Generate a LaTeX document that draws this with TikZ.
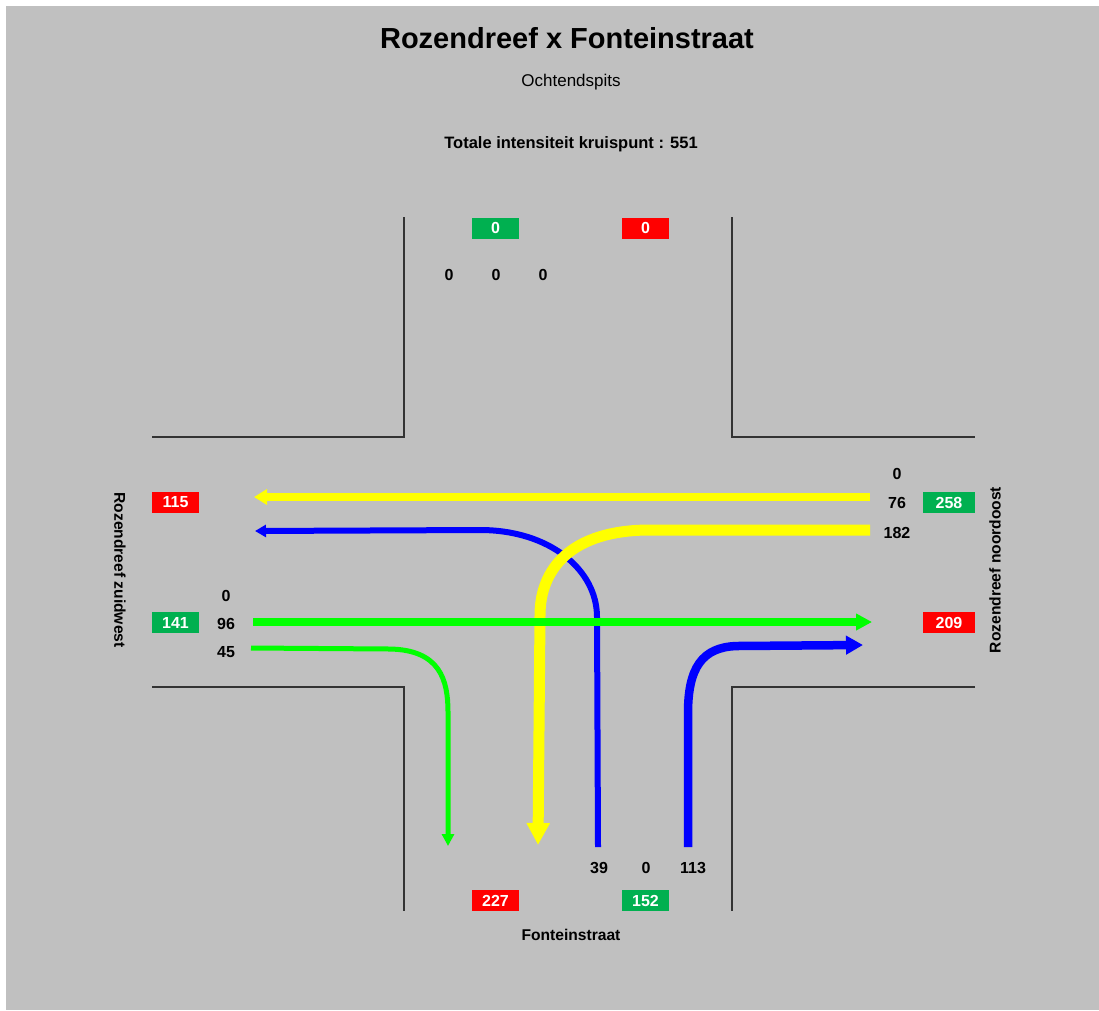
\documentclass[tikz,border=0pt]{standalone}
\usepackage{fontspec}
\setmainfont{Liberation Sans}
\usepackage{xcolor}
\usepackage{tikz}
\usetikzlibrary{arrows.meta}
\definecolor{bggray}{RGB}{192,192,192}
\definecolor{boxgreen}{RGB}{0,176,80}
\definecolor{flowyellow}{RGB}{255,255,0}
\definecolor{flowblue}{RGB}{0,0,255}
\definecolor{flowgreen}{RGB}{0,255,0}

\begin{document}
\begin{tikzpicture}[
  x=1pt, y=-1pt,
  count/.style={font=\bfseries\fontsize{16}{16}\selectfont, inner sep=0pt},
  inbox/.style={fill=boxgreen, text=white, minimum width=47pt, minimum height=21pt, inner sep=0pt, font=\bfseries\fontsize{16}{16}\selectfont},
  outbox/.style={inbox, fill=red},
  street/.style={font=\bfseries\fontsize{15.6}{16}\selectfont, inner sep=0pt},
  kerb/.style={draw=black!80, line width=1.6pt},
  flow/.style={line width=#1}
]
  \useasboundingbox (0,0) rectangle (1099,1010);
  \fill[white] (0,0) rectangle (1099,1010);
  \fill[bggray] (6,6) rectangle (1099,1010);

  \node[font=\bfseries\fontsize{29}{30}\selectfont] (title) at (567,38) {Rozendreef x Fonteinstraat};
  \node[font=\fontsize{17}{18}\selectfont, anchor=base] (period) at (571,86) {Ochtendspits};
  \node[font=\bfseries\fontsize{16.5}{18}\selectfont] (total) at (571,144) {Totale intensiteit kruispunt : 551};

  % kerbs
  \draw[kerb] (404,217) -- (404,437) -- (152,437);
  \draw[kerb] (732,217) -- (732,437) -- (975,437);
  \draw[kerb] (152,687) -- (404,687) -- (404,911);
  \draw[kerb] (975,687) -- (732,687) -- (732,911);

  % north
  \node[inbox] (nin) at (495.5,228) {0};
  \node[outbox] (nout) at (645.5,228) {0};
  \node[count] (n1) at (449,275) {0};
  \node[count] (n2) at (496,275) {0};
  \node[count] (n3) at (543,275) {0};

  % south west
  \node[outbox] (swout) at (175.5,502.5) {115};
  \node[inbox] (swin) at (175.5,622.5) {141};
  \node[count] (sw1) at (226,596) {0};
  \node[count] (sw2) at (226,624) {96};
  \node[count] (sw3) at (226,652) {45};
  \node[street, rotate=-90] (swname) at (120,570) {Rozendreef zuidwest};

  % north east
  \node[inbox, minimum width=52pt] (nein) at (949,502.5) {258};
  \node[outbox, minimum width=52pt] (neout) at (949,622.5) {209};
  \node[count] (ne1) at (897,474) {0};
  \node[count] (ne2) at (897,503) {76};
  \node[count] (ne3) at (897,533) {182};
  \node[street, rotate=90] (nename) at (995,570) {Rozendreef noordoost};

  % south
  \node[outbox] (sout) at (495.5,900.5) {227};
  \node[inbox] (sin) at (645.5,900.5) {152};
  \node[count] (s1) at (599,868) {39};
  \node[count] (s2) at (646,868) {0};
  \node[count] (s3) at (693,868) {113};
  \node[street] (sname) at (571,935) {Fonteinstraat};

  % flows
  \coordinate (f113a) at (688,847);  \coordinate (f113b) at (863,645);
  \coordinate (f39a) at (598,847);   \coordinate (f39b) at (255,531);
  \coordinate (f76a) at (870,497);   \coordinate (f76b) at (254,497);
  \coordinate (f182a) at (870,530);  \coordinate (f182b) at (538,845);
  \coordinate (f96a) at (253,622);   \coordinate (f96b) at (872,622);
  \coordinate (f45a) at (251,648);   \coordinate (f45b) at (448,846);

  \draw[flowblue, flow=8.5pt, -{Triangle[length=17pt, width=18pt]}] (f113a) -- (688,713) .. controls (688,668) and (702,647) .. (737,646) -- (f113b);
  \draw[flowblue, flow=6pt, -{Triangle[length=11pt, width=12pt]}] (f39a) -- (597,617) .. controls (597,570) and (550,530) .. (480,530) -- (f39b);
  \draw[flowyellow, flow=8pt, -{Triangle[length=13pt, width=15pt]}] (f76a) -- (f76b);
  \draw[flowyellow, flow=11pt, -{Triangle[length=22pt, width=22pt]}] (f182a) -- (650,530) .. controls (570,530) and (540,570) .. (540,615) -- (f182b);
  \draw[flowgreen, flow=8pt, -{Triangle[length=16pt, width=16pt]}] (f96a) -- (f96b);
  \draw[flowgreen, flow=5pt, -{Triangle[length=12pt, width=12pt]}] (f45a) -- (390,649) .. controls (440,650) and (448,680) .. (448,712) -- (f45b);
\end{tikzpicture}
\end{document}
